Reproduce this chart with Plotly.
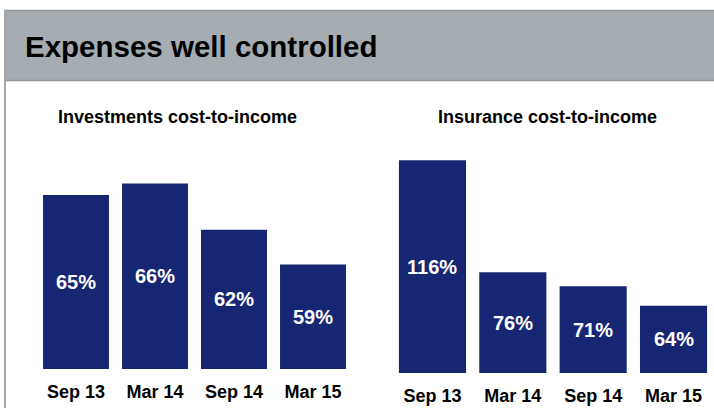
import plotly.graph_objects as go

categories = ["Sep 13", "Mar 14", "Sep 14", "Mar 15"]
investments_values = [65, 66, 62, 59]
insurance_values = [116, 76, 71, 64]
investments_labels = ["65%", "66%", "62%", "59%"]
insurance_labels = ["116%", "76%", "71%", "64%"]
investments_axis_min = 50
insurance_axis_min = 40

W, H = 714, 408
NAVY = "#172672"
FONT = "Liberation Sans, Arial, sans-serif"

def px(x):
    return x / W

def py(y):
    return (H - y) / H

fig = go.Figure()

fig.add_trace(go.Bar(
    x=categories, y=investments_values,
    marker=dict(color=NAVY, line=dict(width=0)),
    xaxis="x", yaxis="y", hoverinfo="skip",
))
fig.add_trace(go.Bar(
    x=categories, y=insurance_values,
    marker=dict(color=NAVY, line=dict(width=0)),
    xaxis="x2", yaxis="y2", hoverinfo="skip",
))

tickfont = dict(size=18, color="black", family=FONT)
common_x = dict(type="category", showgrid=False, zeroline=False, showline=False,
                ticks="outside", ticklen=6, tickcolor="rgba(0,0,0,0)",
                tickfont=tickfont, fixedrange=True,
                tickprefix="<b>", ticksuffix="</b>")
common_y = dict(showgrid=False, zeroline=False, showline=False, showticklabels=False,
                fixedrange=True)

annotations = [
    dict(text="<b>Expenses well controlled</b>", xref="paper", yref="paper",
         x=px(23), y=py(46.5), xanchor="left", yanchor="middle", showarrow=False,
         font=dict(size=29.5, color="black", family=FONT)),
    dict(text="<b>Investments cost-to-income</b>", xref="paper", yref="paper",
         x=px(177), y=py(117), xanchor="center", yanchor="middle", showarrow=False,
         font=dict(size=18, color="black", family=FONT)),
    dict(text="<b>Insurance cost-to-income</b>", xref="paper", yref="paper",
         x=px(547), y=py(117), xanchor="center", yanchor="middle", showarrow=False,
         font=dict(size=18, color="black", family=FONT)),
]
for c, v, lab in zip(categories, investments_values, investments_labels):
    annotations.append(dict(text=f"<b>{lab}</b>", x=c, y=(v + investments_axis_min) / 2,
                            xref="x", yref="y", showarrow=False,
                            font=dict(size=20, color="white", family=FONT)))
for c, v, lab in zip(categories, insurance_values, insurance_labels):
    annotations.append(dict(text=f"<b>{lab}</b>", x=c, y=(v + insurance_axis_min) / 2,
                            xref="x2", yref="y2", showarrow=False,
                            font=dict(size=20, color="white", family=FONT)))

fig.update_layout(
    width=W, height=H,
    margin=dict(l=0, r=0, t=0, b=0),
    paper_bgcolor="white", plot_bgcolor="rgba(0,0,0,0)",
    showlegend=False,
    bargap=0.165,
    font=dict(family=FONT),
    xaxis=dict(domain=[px(36.5), px(352.5)], anchor="y", **common_x),
    yaxis=dict(domain=[py(369), py(21)], range=[investments_axis_min, 80], **common_y),
    xaxis2=dict(domain=[px(392.3), px(713.7)], anchor="y2", **common_x),
    yaxis2=dict(domain=[py(373), py(149)], range=[insurance_axis_min, 120], **common_y),
    shapes=[
        dict(type="rect", xref="paper", yref="paper",
             x0=px(4), x1=1.0, y0=py(81), y1=py(10),
             fillcolor="#A5ACB2", line=dict(width=0), layer="below"),
        dict(type="line", xref="paper", yref="paper",
             x0=px(4), x1=1.0, y0=py(10.5), y1=py(10.5),
             line=dict(color="#8F969C", width=1.5)),
        dict(type="line", xref="paper", yref="paper",
             x0=px(4), x1=1.0, y0=py(80.5), y1=py(80.5),
             line=dict(color="#8F969C", width=1.5)),
        dict(type="line", xref="paper", yref="paper",
             x0=px(5), x1=px(5), y0=0, y1=py(10),
             line=dict(color="#A0A7AD", width=2)),
    ],
    annotations=annotations,
)

fig.write_html("out.html", config={"displayModeBar": False},
               post_script="document.body.style.margin='0';document.body.style.overflow='hidden';")
